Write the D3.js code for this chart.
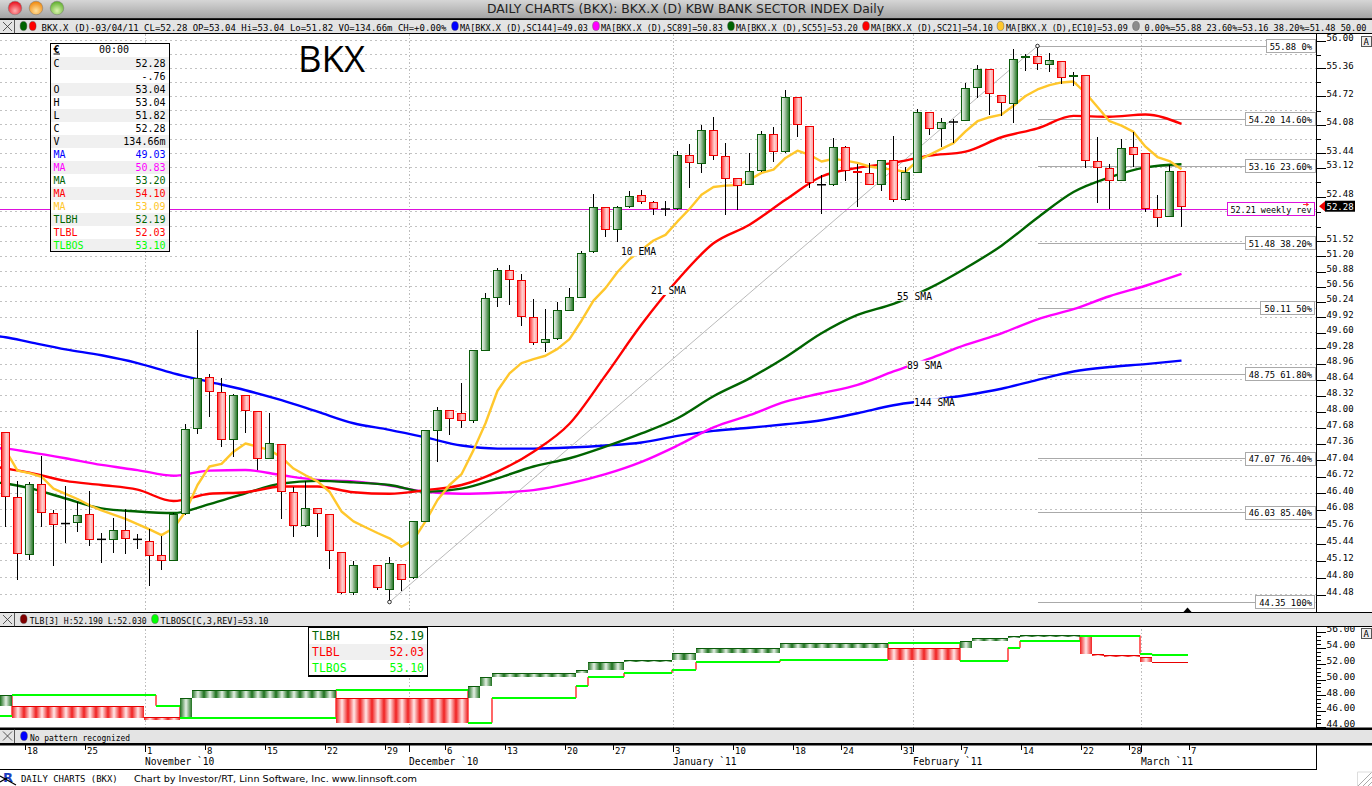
<!DOCTYPE html>
<html>
<head>
<meta charset="utf-8">
<title>BKX daily</title>
<script src="https://cdn.jsdelivr.net/npm/d3@7"></script>
<style>
  html, body { margin: 0; padding: 0; background: #fff; overflow: hidden; }
  svg { display: block; }
</style>
</head>
<body>
<div id="chart"></div>
<script>
// trading slots, first one only carries the moving averages off the left edge,
// 2010-11-25 is the empty Thanksgiving slot, 2011-03-07 only has a tick
var dates = [
  "2010-10-13","2010-10-14","2010-10-15","2010-10-18","2010-10-19","2010-10-20","2010-10-21","2010-10-22",
  "2010-10-25","2010-10-26","2010-10-27","2010-10-28","2010-10-29","2010-11-01","2010-11-02","2010-11-03",
  "2010-11-04","2010-11-05","2010-11-08","2010-11-09","2010-11-10","2010-11-11","2010-11-12","2010-11-15",
  "2010-11-16","2010-11-17","2010-11-18","2010-11-19","2010-11-22","2010-11-23","2010-11-24","2010-11-25",
  "2010-11-26","2010-11-29","2010-11-30","2010-12-01","2010-12-02","2010-12-03","2010-12-06","2010-12-07",
  "2010-12-08","2010-12-09","2010-12-10","2010-12-13","2010-12-14","2010-12-15","2010-12-16","2010-12-17",
  "2010-12-20","2010-12-21","2010-12-22","2010-12-23","2010-12-27","2010-12-28","2010-12-29","2010-12-30",
  "2010-12-31","2011-01-03","2011-01-04","2011-01-05","2011-01-06","2011-01-07","2011-01-10","2011-01-11",
  "2011-01-12","2011-01-13","2011-01-14","2011-01-18","2011-01-19","2011-01-20","2011-01-21","2011-01-24",
  "2011-01-25","2011-01-26","2011-01-27","2011-01-28","2011-01-31","2011-02-01","2011-02-02","2011-02-03",
  "2011-02-04","2011-02-07","2011-02-08","2011-02-09","2011-02-10","2011-02-11","2011-02-14","2011-02-15",
  "2011-02-16","2011-02-17","2011-02-18","2011-02-22","2011-02-23","2011-02-24","2011-02-25","2011-02-28",
  "2011-03-01","2011-03-02","2011-03-03","2011-03-04","2011-03-07"];

var open = [
  47.59,46.32,45.23,46.57,46.02,45.82,45.84,46.00,45.52,45.52,45.69,45.52,45.48,45.22,45.12,46.01,47.66,48.69,48.39,47.44,
  48.33,48.01,47.07,47.35,46.42,45.78,46.11,46.00,45.28,44.53,45.02,44.59,45.05,44.80,45.86,47.62,48.03,47.97,47.82,49.24,
  50.33,50.91,50.70,49.92,49.40,49.48,50.07,50.34,51.30,52.26,51.78,52.27,52.52,52.37,52.22,52.22,53.40,53.22,53.96,53.38,
  52.88,52.75,53.06,53.87,53.48,54.70,54.04,52.75,52.75,53.58,53.05,52.99,52.75,53.29,52.42,53.02,54.36,53.99,54.14,54.18,
  54.92,55.33,54.74,54.56,55.62,55.64,55.46,55.53,55.18,55.21,53.27,53.10,52.85,53.58,53.43,52.20,52.06,53.04];
var high = [
  47.59,46.64,46.61,47.12,46.08,46.54,46.23,46.44,45.64,45.93,46.10,45.62,45.71,45.59,46.03,47.75,49.66,48.75,48.67,48.35,
  48.33,48.01,47.97,47.35,46.53,46.63,46.11,46.00,45.28,45.11,45.03,45.18,45.05,45.86,47.63,48.10,48.03,48.58,49.25,50.43,
  50.95,51.02,50.83,50.30,50.09,50.25,50.53,51.32,52.55,52.26,52.28,52.62,52.64,52.39,52.40,53.50,53.65,54.08,54.26,53.67,
  52.90,53.45,53.95,54.04,54.87,54.70,54.04,52.97,53.79,53.61,53.21,53.23,53.29,53.83,53.15,54.43,54.36,54.24,54.22,55.02,
  55.43,55.35,54.76,55.81,55.70,55.88,55.71,55.53,55.28,55.21,53.81,53.21,53.77,53.92,53.45,52.53,53.19,53.04];
var low = [
  45.75,44.75,45.13,45.75,45.01,45.46,45.65,45.40,45.08,45.27,45.25,45.33,44.64,44.95,45.11,45.99,47.56,47.89,47.31,47.11,
  47.58,46.85,47.06,45.91,45.57,45.76,45.56,44.97,44.49,44.47,44.57,44.35,44.55,44.78,45.85,47.00,47.54,47.68,47.78,49.22,
  50.14,50.18,49.75,49.34,49.21,49.46,50.06,50.33,51.28,51.62,51.50,52.25,52.32,52.08,52.06,52.20,52.67,53.00,53.30,52.08,
  52.19,52.74,53.02,53.26,53.45,53.80,52.67,52.12,52.72,52.84,52.27,52.74,52.62,52.38,52.40,53.01,53.86,53.59,53.67,54.16,
  54.69,54.30,54.28,54.11,55.31,55.33,55.27,55.01,54.96,53.11,52.34,52.22,52.82,53.15,52.15,51.82,52.05,51.82];
var close = [
  46.33,45.25,46.57,46.03,45.80,45.82,45.98,45.52,45.52,45.69,45.53,45.52,45.21,45.12,45.99,47.65,48.67,48.40,47.44,48.33,
  48.02,47.07,47.37,46.43,45.78,46.11,46.01,45.31,44.53,45.03,44.61,45.07,44.76,45.85,47.63,48.03,47.86,47.82,49.23,50.32,
  50.91,50.71,49.93,49.40,49.47,50.07,50.34,51.27,52.26,51.78,52.26,52.50,52.38,52.22,52.22,53.40,53.24,53.96,53.39,52.88,
  52.74,53.05,53.87,53.48,54.70,54.09,52.80,52.75,53.58,53.07,53.01,52.75,53.29,52.42,53.01,54.36,53.99,54.12,54.14,54.91,
  55.33,54.78,54.58,55.57,55.64,55.47,55.55,55.15,55.19,53.28,53.12,52.85,53.56,53.42,52.22,52.04,53.05,52.28];

// read at the 13 Oct slot, 14 Oct and then every third slot from 18 Oct
var sma144 = [49.54,49.51,49.41,49.26,49.14,48.98,48.77,48.60,48.43,48.23,48.00,47.77,47.64,47.49,47.33,47.27,47.27,47.29,
  47.33,47.39,47.52,47.62,47.68,47.75,47.83,47.97,48.13,48.23,48.33,48.46,48.64,48.81,48.90,48.96,49.03];
var sma89 = [47.28,47.27,47.20,47.08,46.95,46.85,46.74,46.84,46.85,46.75,46.66,46.63,46.55,46.43,46.39,46.41,46.46,46.59,
  46.77,47.01,47.33,47.69,47.93,48.20,48.37,48.54,48.81,49.07,49.35,49.59,49.88,50.09,50.36,50.58,50.83];
var sma55 = [46.61,46.59,46.50,46.30,46.11,46.05,46.02,46.19,46.40,46.59,46.64,46.61,46.56,46.43,46.49,46.69,46.92,47.08,
  47.31,47.57,47.87,48.31,48.67,49.10,49.59,49.97,50.20,50.53,50.95,51.43,52.03,52.59,52.91,53.13,53.20];
var sma21 = [46.92,46.88,46.80,46.64,46.56,46.47,46.25,46.39,46.42,46.53,46.53,46.42,46.39,46.46,46.56,46.82,47.21,47.76,
  48.73,49.77,50.70,51.48,51.88,52.42,52.93,53.12,53.23,53.39,53.48,53.80,54.00,54.28,54.26,54.31,54.10];
// every slot from 14 Oct to 4 Mar
var ema10 = [
  47.24,46.84,46.79,46.72,46.49,46.39,46.29,46.17,46.07,45.99,45.91,45.81,45.71,45.60,45.73,46.05,46.56,46.92,46.97,47.21,
  47.37,47.31,47.24,47.10,46.88,46.75,46.63,46.43,46.05,45.86,45.75,45.64,45.54,45.38,45.51,45.86,46.27,46.56,46.77,47.24,
  47.77,48.42,48.77,48.98,49.06,49.13,49.27,49.47,49.85,50.27,50.53,50.87,51.14,51.34,51.54,51.66,51.95,52.22,52.53,52.70,
  52.73,52.74,52.86,53.01,53.08,53.34,53.50,53.41,53.26,53.32,53.28,53.23,53.15,53.11,53.08,53.03,53.28,53.41,53.54,53.67,
  53.93,54.16,54.25,54.31,54.51,54.73,54.88,54.98,55.04,55.06,54.80,54.48,54.16,54.06,53.92,53.59,53.36,53.27,53.09];

var fibPrice = [55.88,54.20,53.16,51.48,50.11,48.75,47.07,46.03,44.35];
var fibLabel = ["55.88 0%","54.20 14.60%","53.16 23.60%","51.48 38.20%","50.11 50%","48.75 61.80%","47.07 76.40%","46.03 85.40%","44.35 100%"];

var priceTicks = d3.range(0, 37).map(function(i) { return +(44.48 + i * 0.32).toFixed(2); });
var priceNoLabel = [55.68,55.04,54.40,53.76,52.80,52.16,51.84];

// three line break blocks, as runs of slots
var tlbRun  = [1,11,3,1,12,11,1,1,7,1,3,4,2,7,9,6,1,3,1,5,1,1,3,1,3];
var tlbHigh = [47.95,46.56,45.14,47.62,48.58,47.57,49.14,50.27,50.78,51.16,52.17,52.42,53.30,53.94,54.52,53.94,54.82,55.20,55.44,55.58,55.40,53.20,53.00,52.80,52.19];
var tlbLow  = [46.69,45.14,44.92,45.10,47.66,44.54,47.66,49.17,50.31,50.82,51.23,52.25,52.50,53.38,54.01,52.42,53.97,54.90,55.20,55.40,53.26,53.00,52.88,52.25,52.03];
var tlbUp   = [1,0,0,1,1,0,1,1,1,1,1,1,1,1,1,0,1,1,1,1,0,0,0,0,0];
var oscRun   = [1,12,2,13,11,2,7,1,3,4,2,7,9,6,4,1,5,5,1,3];
var oscValue = [45.43,48.04,46.69,45.14,48.71,44.54,47.66,49.17,50.31,50.82,51.23,52.20,52.50,54.60,52.33,54.01,54.86,55.55,53.25,53.10];

var tlbTicks = d3.range(0, 25).map(function(i) { return 44 + i * 0.5; });

var dayTicks = ["2010-10-18","2010-10-25","2010-11-01","2010-11-08","2010-11-15","2010-11-22","2010-11-29","2010-12-06",
  "2010-12-13","2010-12-20","2010-12-27","2011-01-03","2011-01-10","2011-01-18","2011-01-24","2011-01-31","2011-02-07",
  "2011-02-14","2011-02-22","2011-02-28","2011-03-07"];
var monthStart = ["2010-11-01","2010-12-01","2011-01-03","2011-02-01","2011-03-01"];
var monthLabel = ["November `10","December `10","January `11","February `11","March `11"];

var maLabel = ["10 EMA","21 SMA","55 SMA","89 SMA","144 SMA"];
var maLabelDate = ["2010-12-29","2010-12-31","2011-02-01","2011-02-02","2011-02-02"];
var maLabelPrice = [51.30,50.48,50.36,48.94,48.18];

var infoName  = ["C","","O","H","L","C","V","MA","MA","MA","MA","MA","TLBH","TLBL","TLBOS"];
var infoValue = ["52.28","-.76","53.04","53.04","51.82","52.28","134.66m","49.03","50.83","53.20","54.10","53.09","52.19","52.03","53.10"];
var infoColor = ["#000","#000","#000","#000","#000","#000","#000","#0000ff","#ff00ff","#006400","#ff0000","#ffc72c","#006400","#ff0000","#00ff00"];

var mono = '"DejaVu Sans Mono", monospace';
var sans = '"DejaVu Sans", sans-serif';

var width = 1372, height = 786;
var plotRight = 1315.5;

var svg = d3.select("#chart").append("svg")
  .attr("width", width)
  .attr("height", height)
  .attr("viewBox", "0 0 " + width + " " + height);

var defs = svg.append("defs");

function gradient(id, stops) {
  var g = defs.append("linearGradient").attr("id", id)
    .attr("x1", 0).attr("x2", 1).attr("y1", 0).attr("y2", 0);
  stops.forEach(function(s) {
    g.append("stop").attr("offset", s[0]).attr("stop-color", s[1]);
  });
}
gradient("upFill",   [[0, "#eef5ee"], [0.35, "#b9d2b9"], [1, "#1c701c"]]);
gradient("downFill", [[0, "#ff2e2e"], [0.6, "#ffd0d0"], [1, "#ffa0a0"]]);
gradient("upBlock",  [[0, "#1c701c"], [0.5, "#e6f0e6"], [1, "#1c701c"]]);
gradient("downBlock",[[0, "#f02020"], [0.5, "#ffe8e8"], [1, "#f02020"]]);

defs.append("linearGradient").attr("id", "titleBar")
  .attr("x1", 0).attr("x2", 0).attr("y1", 0).attr("y2", 1)
  .selectAll("stop")
  .data([[0, "#d6d6d6"], [1, "#a4a4a4"]]).enter().append("stop")
  .attr("offset", function(d) { return d[0]; })
  .attr("stop-color", function(d) { return d[1]; });

[["lightRed", "#ffb0b0", "#e8121f"], ["lightAmber", "#ffe2a0", "#f08a10"], ["lightGreen", "#dcf5b0", "#62b030"]].forEach(function(c) {
  var g = defs.append("radialGradient").attr("id", c[0]).attr("cy", "70%").attr("r", "65%");
  g.append("stop").attr("offset", 0).attr("stop-color", c[1]);
  g.append("stop").attr("offset", 1).attr("stop-color", c[2]);
});

defs.append("clipPath").attr("id", "plotClip").append("rect")
  .attr("x", 0).attr("y", 34).attr("width", plotRight).attr("height", 578);
defs.append("clipPath").attr("id", "tlbClip").append("rect")
  .attr("x", 0).attr("y", 627).attr("width", plotRight).attr("height", 101);

// scales
var x = d3.scalePoint().domain(dates).range([-6.5, 1193.5]);
var y = d3.scaleLog().domain([44.35, 55.88]).range([602, 46]);
var yTlb = d3.scaleLinear().domain([44, 56]).range([727, 632]);

var slots = dates.slice(1, 100);
var candleDates = slots.filter(function(d) { return d !== "2010-11-25"; });
var slowDates = dates.filter(function(d, i) { return i < 2 || (i % 3 === 0 && i < 100); });

var candles = candleDates.map(function(d, i) {
  return {date: d, o: open[i], h: high[i], l: low[i], c: close[i]};
});

function seriesOf(ds, values) {
  return ds.map(function(d, i) { return {date: d, value: values[i]}; });
}

function text(g, px, py, str, size, opts) {
  opts = opts || {};
  var t = g.append("text")
    .attr("x", px).attr("y", py)
    .attr("font-family", opts.family || mono)
    .attr("font-size", size)
    .attr("fill", opts.fill || "#000")
    .attr("text-anchor", opts.anchor || "start")
    .text(str);
  if (opts.fit) t.attr("textLength", opts.fit).attr("lengthAdjust", "spacingAndGlyphs");
  if (opts.weight) t.attr("font-weight", opts.weight);
  return t;
}

// ---- main price panel
var grid = svg.append("g").attr("shape-rendering", "crispEdges");
grid.selectAll("line.h").data(priceTicks).enter().append("line")
  .attr("class", "h")
  .attr("x1", 0).attr("x2", plotRight)
  .attr("y1", function(d) { return y(d); })
  .attr("y2", function(d) { return y(d); })
  .attr("stroke", "#c2c2c2")
  .attr("stroke-dasharray", "1.5,3.5");
grid.selectAll("line.v").data(monthStart).enter().append("line")
  .attr("class", "v")
  .attr("x1", function(d) { return x(d) - 4.5; })
  .attr("x2", function(d) { return x(d) - 4.5; })
  .attr("y1", 34).attr("y2", 728)
  .attr("stroke", "#bdbdbd")
  .attr("stroke-dasharray", "1.5,2");

var plot = svg.append("g").attr("clip-path", "url(#plotClip)");

// fib levels run from the high bar to the axis
plot.selectAll("line.fib").data(fibPrice).enter().append("line")
  .attr("class", "fib")
  .attr("x1", x("2011-02-15")).attr("x2", plotRight)
  .attr("y1", function(d) { return y(d); })
  .attr("y2", function(d) { return y(d); })
  .attr("stroke", "#aaa")
  .attr("shape-rendering", "crispEdges");

// trend line from the low to the high
plot.append("line")
  .attr("x1", x("2010-11-29")).attr("y1", y(44.35))
  .attr("x2", x("2011-02-15")).attr("y2", y(55.88))
  .attr("stroke", "#a8a8a8").attr("stroke-width", 0.8);

// weekly reversal level
plot.append("line")
  .attr("x1", 0).attr("x2", plotRight)
  .attr("y1", y(52.21)).attr("y2", y(52.21))
  .attr("stroke", "#dd11dd")
  .attr("shape-rendering", "crispEdges");

var slowLine = d3.line()
  .x(function(d) { return x(d.date); })
  .y(function(d) { return y(d.value); })
  .curve(d3.curveMonotoneX);

var fastLine = d3.line()
  .x(function(d) { return x(d.date); })
  .y(function(d) { return y(d.value); });

var maDraw = [
  [sma144, slowDates, "#0000ff", slowLine],
  [sma89, slowDates, "#ff00ff", slowLine],
  [sma55, slowDates, "#006400", slowLine],
  [sma21, slowDates, "#ff0000", slowLine],
  [ema10, slots, "#ffc72c", fastLine]
];

// averages sit under the candles
maDraw.forEach(function(m) {
  plot.append("path")
    .datum(seriesOf(m[1], m[0]))
    .attr("fill", "none")
    .attr("stroke", m[2])
    .attr("stroke-width", 2.4)
    .attr("stroke-linejoin", "round")
    .attr("d", m[3]);
});

var candle = plot.selectAll("g.candle").data(candles).enter().append("g").attr("class", "candle");
candle.append("line")
  .attr("x1", function(d) { return x(d.date); })
  .attr("x2", function(d) { return x(d.date); })
  .attr("y1", function(d) { return y(d.h); })
  .attr("y2", function(d) { return y(d.l); })
  .attr("stroke", "#000")
  .attr("shape-rendering", "crispEdges");
candle.filter(function(d) { return d.o !== d.c; }).append("rect")
  .attr("x", function(d) { return x(d.date) - 4; })
  .attr("width", 8)
  .attr("y", function(d) { return Math.min(y(d.o), y(d.c)); })
  .attr("height", function(d) { return Math.abs(y(d.o) - y(d.c)); })
  .attr("fill", function(d) { return d.c > d.o ? "url(#upFill)" : "url(#downFill)"; })
  .attr("stroke", function(d) { return d.c > d.o ? "#0b5c0b" : "#f00000"; })
  .attr("shape-rendering", "crispEdges");
candle.filter(function(d) { return d.o === d.c; }).append("line")
  .attr("x1", function(d) { return x(d.date) - 4.5; })
  .attr("x2", function(d) { return x(d.date) + 4.5; })
  .attr("y1", function(d) { return y(d.o); })
  .attr("y2", function(d) { return y(d.o); })
  .attr("stroke", "#000")
  .attr("stroke-width", 1.5);

// fib end markers
[["2010-11-29", 44.35], ["2011-02-15", 55.88]].forEach(function(p) {
  plot.append("circle")
    .attr("cx", x(p[0])).attr("cy", y(p[1])).attr("r", 1.8)
    .attr("fill", "#fff").attr("stroke", "#000").attr("stroke-width", 0.8);
});

// moving average captions knock a hole in the line
var maLabelNudge = [-3, 3, -3, -5, 5];
maLabel.forEach(function(s, i) {
  var g = plot.append("g");
  var t = text(g, x(maLabelDate[i]) + maLabelNudge[i], y(maLabelPrice[i]) + 3.5, s, 9.7, {anchor: "middle"});
  var b = t.node().getBBox();
  g.insert("rect", "text")
    .attr("x", b.x).attr("y", b.y + 1).attr("width", b.width).attr("height", b.height - 2)
    .attr("fill", "#fff");
});

// fib captions
var fibG = svg.selectAll("g.fibLabel").data(fibPrice).enter().append("g").attr("class", "fibLabel");
fibG.each(function(d, i) {
  var g = d3.select(this);
  var t = text(g, 1312, y(d) + 3.5, fibLabel[i], 9, {anchor: "end", fit: fibLabel[i].length * 5.28});
  var b = t.node().getBBox();
  g.insert("rect", "text")
    .attr("x", Math.round(b.x) - 3.5).attr("y", Math.round(y(d)) - 6.5)
    .attr("width", Math.round(b.width) + 6).attr("height", 13)
    .attr("fill", "#fff").attr("stroke", "#aaa").attr("stroke-width", 1.2)
    .attr("shape-rendering", "crispEdges");
});

// weekly reversal caption
var revG = svg.append("g");
revG.append("rect")
  .attr("x", 1227.5).attr("y", y(52.21) - 6.5).attr("width", 87).attr("height", 13)
  .attr("fill", "#fff").attr("stroke", "#dd11dd").attr("shape-rendering", "crispEdges");
text(revG, 1230.5, y(52.21) + 3.5, "52.21 weekly rev", 9, {fit: 81});
revG.append("path").attr("d", "M1303,204.5h5m-2,-1.5l2.5,1.5l-2.5,1.5").attr("fill", "none").attr("stroke", "#f00").attr("stroke-width", 0.8);

// price axis
var axisPrice = d3.axisRight(y)
  .tickValues(priceTicks)
  .tickSize(10)
  .tickFormat(function(d) { return priceNoLabel.indexOf(d) >= 0 ? "" : d.toFixed(2); });

var axisG = svg.append("g")
  .attr("transform", "translate(" + plotRight + ",0)")
  .attr("shape-rendering", "crispEdges")
  .call(axisPrice);
axisG.select(".domain").attr("d", "M0.5,34V612").attr("stroke", "#000");
axisG.selectAll(".tick line").attr("stroke", "#000")
  .attr("x2", function(d) { return priceNoLabel.indexOf(d) >= 0 ? 5 : 10; });
axisG.selectAll(".tick text")
  .attr("x", 11).attr("dy", "-0.02em")
  .attr("font-family", mono).attr("font-size", 9).attr("fill", "#000");

// last price flag
var flag = svg.append("g");
flag.append("path")
  .attr("d", "M1319," + y(52.28) + "l6,-5v10z")
  .attr("fill", "#f00000");
flag.append("rect")
  .attr("x", 1325).attr("y", y(52.28) - 5.5).attr("width", 30).attr("height", 11)
  .attr("fill", "#000");
text(flag, 1326.5, y(52.28) + 3.5, "52.28", 9, {fill: "#fff"});

// big symbol caption
text(svg, 298, 72, "BKX", 36, {family: '"Open Sans", sans-serif', fit: 67});

// info box
var infoG = svg.append("g");
infoG.append("rect")
  .attr("x", 50.5).attr("y", 43.5).attr("width", 119).attr("height", 208)
  .attr("fill", "#fff");
var rowH = 13;
infoName.forEach(function(nm, i) {
  var top = 57 + i * rowH;
  if (i % 2 === 0) {
    infoG.append("rect").attr("x", 51).attr("y", top).attr("width", 118).attr("height", rowH).attr("fill", "#f0f0f0");
  }
  text(infoG, 53.5, top + 10, nm, 10, {fill: infoColor[i]});
  text(infoG, 165.5, top + 10, infoValue[i], 10, {fill: infoColor[i], anchor: "end"});
});
text(infoG, 53.5, 53, "\u20ac", 10, {weight: "bold"});
infoG.append("line").attr("x1", 53.5).attr("x2", 60).attr("y1", 54).attr("y2", 54).attr("stroke", "#000");
text(infoG, 99, 53, "00:00", 10);
infoG.append("rect")
  .attr("x", 50.5).attr("y", 43.5).attr("width", 119).attr("height", 208)
  .attr("fill", "none").attr("stroke", "#000").attr("stroke-width", 1.2)
  .attr("shape-rendering", "crispEdges");

// ---- lower three line break panel
var tlb = svg.append("g").attr("clip-path", "url(#tlbClip)");

function slotLeft(i) { return x(slots[i]) - 5.5; }
function slotRight(i) { return x(slots[i]) + 6.5; }

// osc steps: red risers go under the blocks, green treads over them
var oscSteps = [];
(function() {
  var at = 0;
  oscRun.forEach(function(n, r) {
    oscSteps.push({from: at, to: at + n - 1, value: oscValue[r], prev: r > 0 ? oscValue[r - 1] : null});
    at += n;
  });
})();

tlb.selectAll("line.riser").data(oscSteps.slice(1)).enter().append("line")
  .attr("class", "riser")
  .attr("x1", function(d) { return slotLeft(d.from); })
  .attr("x2", function(d) { return slotLeft(d.from); })
  .attr("y1", function(d) { return yTlb(d.prev); })
  .attr("y2", function(d) { return yTlb(d.value); })
  .attr("stroke", "#ff0000")
  .attr("stroke-width", 1.2);

var blocks = [];
var runs = [];
(function() {
  var at = 0;
  tlbRun.forEach(function(n, r) {
    runs.push({from: at, to: at + n - 1, hi: tlbHigh[r], lo: tlbLow[r], up: tlbUp[r]});
    for (var k = 0; k < n; k++) {
      blocks.push({slot: at + k, hi: tlbHigh[r], lo: tlbLow[r], up: tlbUp[r]});
    }
    at += n;
  });
})();

tlb.selectAll("rect.block").data(blocks).enter().append("rect")
  .attr("class", "block")
  .attr("x", function(d) { return slotLeft(d.slot); })
  .attr("width", 12)
  .attr("y", function(d) { return yTlb(d.hi); })
  .attr("height", function(d) { return yTlb(d.lo) - yTlb(d.hi); })
  .attr("fill", function(d) { return d.up ? "url(#upBlock)" : "url(#downBlock)"; })
  .attr("shape-rendering", "crispEdges");

tlb.selectAll("line.blockTop").data(runs).enter().append("line")
  .attr("class", "blockTop")
  .attr("x1", function(d) { return slotLeft(d.from); })
  .attr("x2", function(d) { return slotRight(d.to); })
  .attr("y1", function(d) { return yTlb(d.hi); })
  .attr("y2", function(d) { return yTlb(d.hi); })
  .attr("stroke", function(d) { return d.up ? "#0b5c0b" : "#e80000"; })
  .attr("shape-rendering", "crispEdges");

tlb.selectAll("line.tread").data(oscSteps).enter().append("line")
  .attr("class", "tread")
  .attr("x1", function(d) { return slotLeft(d.from); })
  .attr("x2", function(d) { return slotRight(d.to); })
  .attr("y1", function(d) { return yTlb(d.value); })
  .attr("y2", function(d) { return yTlb(d.value); })
  .attr("stroke", "#00ff00")
  .attr("stroke-width", 2)
  .attr("shape-rendering", "crispEdges");

var tlbAxis = svg.append("g")
  .attr("transform", "translate(" + plotRight + ",0)")
  .attr("shape-rendering", "crispEdges")
  .call(d3.axisRight(yTlb).tickValues(tlbTicks).tickSize(10)
    .tickFormat(function(d) { return d % 2 === 0 ? d.toFixed(2) : ""; }));
tlbAxis.select(".domain").attr("d", "M0.5,627V728").attr("stroke", "#000");
tlbAxis.selectAll(".tick line").attr("stroke", "#000")
  .attr("x2", function(d) { return d % 2 === 0 ? 10 : 5; });
tlbAxis.selectAll(".tick text")
  .attr("x", 11).attr("dy", "-0.02em")
  .attr("font-family", mono).attr("font-size", 9.5).attr("fill", "#000");

// small value box
var tlbBox = svg.append("g");
tlbBox.append("rect").attr("x", 308.5).attr("y", 627.5).attr("width", 119).attr("height", 48.5).attr("fill", "#fff");
tlbBox.append("rect").attr("x", 309).attr("y", 644).attr("width", 118).attr("height", 16).attr("fill", "#f0f0f0");
[["TLBH", "52.19", "#006400"], ["TLBL", "52.03", "#ff0000"], ["TLBOS", "53.10", "#00ff00"]].forEach(function(r, i) {
  text(tlbBox, 312, 640 + i * 16, r[0], 11.5, {fill: r[2]});
  text(tlbBox, 424, 640 + i * 16, r[1], 11.5, {fill: r[2], anchor: "end"});
});
tlbBox.append("rect").attr("x", 308.5).attr("y", 627.5).attr("width", 119).attr("height", 48.5)
  .attr("fill", "none").attr("stroke", "#000").attr("stroke-width", 1.2).attr("shape-rendering", "crispEdges");

// ---- date axis
var dateG = svg.append("g")
  .attr("transform", "translate(-4.5,745)")
  .attr("shape-rendering", "crispEdges")
  .call(d3.axisBottom(x).tickValues(dayTicks).tickSize(5)
    .tickFormat(function(d) { return +d.slice(8); }));
dateG.select(".domain").remove();
dateG.selectAll(".tick line").attr("stroke", "#000");
dateG.selectAll(".tick text")
  .attr("text-anchor", "start").attr("x", 1.5).attr("y", 3).attr("dy", "0.71em")
  .attr("font-family", mono).attr("font-size", 9).attr("fill", "#000");

var monthG = svg.append("g");
monthG.selectAll("line").data(monthStart).enter().append("line")
  .attr("x1", function(d) { return x(d) - 4; })
  .attr("x2", function(d) { return x(d) - 4; })
  .attr("y1", 745).attr("y2", 752)
  .attr("stroke", "#000").attr("shape-rendering", "crispEdges");
monthStart.forEach(function(d, i) {
  text(monthG, x(d) - 4.5, 765, monthLabel[i], 9.6);
});

// ---- window chrome
var chrome = svg.append("g");
chrome.append("rect").attr("width", width).attr("height", 18).attr("fill", "url(#titleBar)");
chrome.append("rect").attr("y", 18).attr("width", width).attr("height", 1.5).attr("fill", "#222");
["lightRed", "lightAmber", "lightGreen"].forEach(function(id, i) {
  chrome.append("circle").attr("cx", 15 + i * 21).attr("cy", 8).attr("r", 6.8)
    .attr("fill", "url(#" + id + ")").attr("stroke", "#777").attr("stroke-width", 0.5);
});
text(chrome, 487, 13, "DAILY CHARTS (BKX): BKX.X (D) KBW BANK SECTOR INDEX Daily", 12, {family: sans, fit: 397, fill: "#222"});

function bar(top, bottom) {
  chrome.append("rect").attr("x", 0).attr("y", top).attr("width", width).attr("height", bottom - top)
    .attr("fill", "#e4e4e4");
  chrome.append("line").attr("x1", 0).attr("x2", width).attr("y1", top).attr("y2", top)
    .attr("stroke", "#000").attr("shape-rendering", "crispEdges");
  chrome.append("line").attr("x1", 0).attr("x2", width).attr("y1", bottom).attr("y2", bottom)
    .attr("stroke", "#000").attr("shape-rendering", "crispEdges");
}
function closeBox(top) {
  chrome.append("path")
    .attr("d", "M14.5," + top + "v14M3," + (top + 2.5) + "l9,9m0,-9l-9,9")
    .attr("stroke", "#333").attr("fill", "none").attr("stroke-width", 0.8);
}
function dot(cx, cy, fill) {
  chrome.append("ellipse").attr("cx", cx).attr("cy", cy).attr("rx", 3.4).attr("ry", 4.6)
    .attr("fill", fill).attr("stroke", "#444").attr("stroke-width", 0.4);
}

bar(19.5, 33.5);
closeBox(19.5);
dot(23.5, 26, "#006400");
dot(32.7, 26, "#ff0000");
text(chrome, 41.5, 30.5, "BKX.X (D)-03/04/11 CL=52.28 OP=53.04 Hi=53.04 Lo=51.82 VO=134.66m CH=+0.00%", 9, {fit: 405});
dot(455, 26, "#0000ff");
text(chrome, 460, 30.5, "MA[BKX.X (D),SC144]=49.03", 9, {fit: 128});
dot(596, 26, "#ff00ff");
text(chrome, 601, 30.5, "MA[BKX.X (D),SC89]=50.83", 9, {fit: 121.7});
dot(731, 26, "#006400");
text(chrome, 736, 30.5, "MA[BKX.X (D),SC55]=53.20", 9, {fit: 121.7});
dot(866, 26, "#ff0000");
text(chrome, 871, 30.5, "MA[BKX.X (D),SC21]=54.10", 9, {fit: 121.7});
dot(1000.5, 26, "#ffc72c");
text(chrome, 1006, 30.5, "MA[BKX.X (D),EC10]=53.09", 9, {fit: 121.7});
dot(1136, 26, "#8c8c8c");
text(chrome, 1144.5, 30.5, "0.00%=55.88 23.60%=53.16 38.20%=51.48 50.00", 9, {fit: 222});

bar(612.5, 626.5);
closeBox(612.5);
dot(23.7, 619, "#800000");
text(chrome, 29.7, 624, "TLB[3] H:52.190 L:52.030", 9, {fit: 117});
dot(155, 619, "#00ff00");
text(chrome, 160.5, 624, "TLBOSC[C,3,REV]=53.10", 9, {fit: 108});

bar(729, 743);
chrome.append("rect").attr("y", 727.5).attr("width", width).attr("height", 2).attr("fill", "#000");
chrome.append("rect").attr("y", 743).attr("width", width).attr("height", 2.5).attr("fill", "#000");
closeBox(729);
dot(24, 736, "#0000ff");
text(chrome, 30, 740.5, "No pattern recognized", 9, {fit: 100});

// axis frame bottom and right edge
chrome.append("path")
  .attr("d", "M0,769.5H1316V745")
  .attr("fill", "none").attr("stroke", "#000").attr("shape-rendering", "crispEdges");

// the little A buttons
[36, 628].forEach(function(t) {
  chrome.append("rect").attr("x", 1361.5).attr("y", t + 0.5).attr("width", 10).attr("height", 10)
    .attr("fill", "#eee").attr("stroke", "#555").attr("shape-rendering", "crispEdges");
  text(chrome, 1363.5, t + 9, "A", 9);
});

// footer
var logo = chrome.append("g");
text(logo, 3, 782, "R", 13, {family: sans, weight: "bold", fill: "#1a3fc0"});
logo.append("path").attr("d", "M0,776L16,785M0,782L7,778").attr("stroke", "#000").attr("stroke-width", 1.2).attr("fill", "none");
text(chrome, 21, 781.5, "DAILY CHARTS (BKX)", 9, {fit: 96.7});
text(chrome, 134, 781.5, "Chart by Investor/RT, Linn Software, Inc. www.linnsoft.com", 9, {family: sans, fit: 283});

// small triangle under the last bar
chrome.append("path")
  .attr("d", "M" + x("2011-03-04") + ",607.5l4.5,5h-9z")
  .attr("transform", "translate(6,0)")
  .attr("fill", "#000");

// resize grip
chrome.append("path")
  .attr("d", "M1358,786L1372,772M1363,786L1372,777M1368,786L1372,782")
  .attr("stroke", "#aaa").attr("fill", "none");
chrome.append("path").attr("d", "M1357.5,786V772H1372").attr("stroke", "#ddd").attr("fill", "none");
</script>
</body>
</html>
